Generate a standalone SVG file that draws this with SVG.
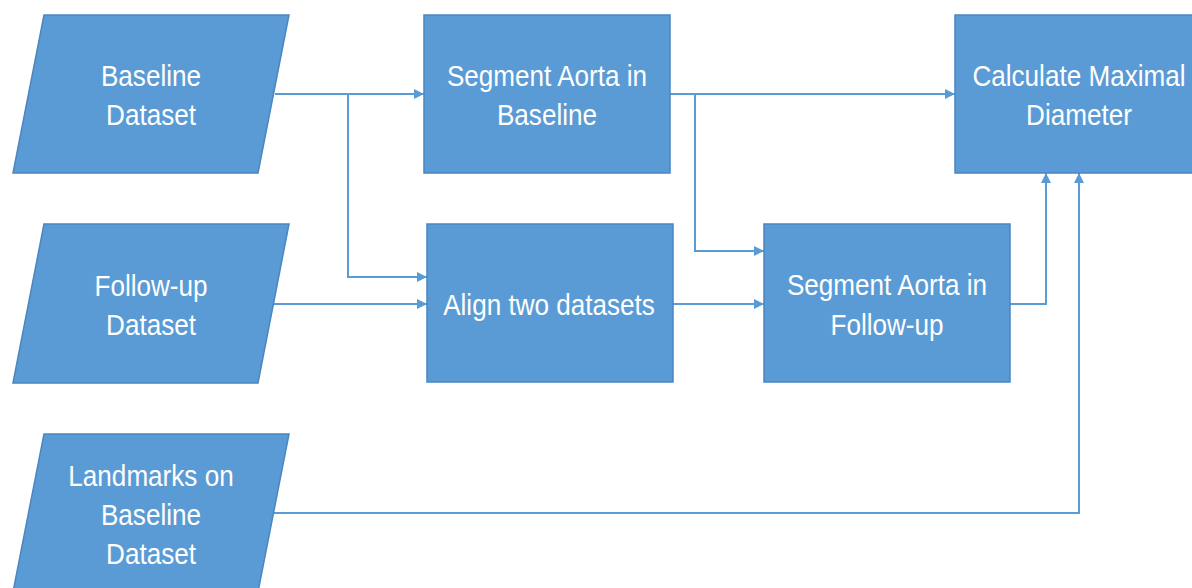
<svg xmlns="http://www.w3.org/2000/svg" width="1192" height="588" viewBox="0 0 1192 588">
<style>
.n{fill:#5b9bd5;stroke:#4a86c0;stroke-width:1.5}
.t{font-family:"Liberation Sans",Arial,sans-serif;font-size:29px;fill:#ffffff;text-anchor:middle}
.c{fill:none;stroke:#5b9bd5;stroke-width:2}
</style>
<defs>
<marker id="a" viewBox="0 0 10 10" refX="10" refY="5" markerWidth="10" markerHeight="10" markerUnits="userSpaceOnUse" orient="auto">
<path d="M0,0 L10,5 L0,10 z" fill="#5b9bd5"/>
</marker>
</defs>
<rect width="1192" height="588" fill="#ffffff"/>
<g id="connectors">
<path class="c" d="M275,94 H424" marker-end="url(#a)"/>
<path class="c" d="M348,94 V277 H427" marker-end="url(#a)"/>
<path class="c" d="M273,304 H427" marker-end="url(#a)"/>
<path class="c" d="M673,304 H764" marker-end="url(#a)"/>
<path class="c" d="M670,94 H955" marker-end="url(#a)"/>
<path class="c" d="M695,94 V251 H764" marker-end="url(#a)"/>
<path class="c" d="M1010,304 H1046 V173" marker-end="url(#a)"/>
<path class="c" d="M273,513 H1079 V173" marker-end="url(#a)"/>
</g>
<g id="baseline-dataset">
<polygon class="n" points="44,15 289,15 258,173 13,173"/>
<g transform="translate(151 0) scale(0.9 1)">
<text class="t" x="0" y="86">Baseline</text>
<text class="t" x="0" y="125">Dataset</text>
</g>
</g>
<g id="followup-dataset">
<polygon class="n" points="44,224 289,224 258,383 13,383"/>
<g transform="translate(151 0) scale(0.9 1)">
<text class="t" x="0" y="296">Follow-up</text>
<text class="t" x="0" y="335">Dataset</text>
</g>
</g>
<g id="landmarks">
<polygon class="n" points="44,434 289,434 258,592 13,592"/>
<g transform="translate(151 0) scale(0.9 1)">
<text class="t" x="0" y="486">Landmarks on</text>
<text class="t" x="0" y="525">Baseline</text>
<text class="t" x="0" y="564">Dataset</text>
</g>
</g>
<g id="segment-baseline">
<rect class="n" x="424" y="15" width="246" height="158"/>
<g transform="translate(547 0) scale(0.9 1)">
<text class="t" x="0" y="86">Segment Aorta in</text>
<text class="t" x="0" y="125">Baseline</text>
</g>
</g>
<g id="align">
<rect class="n" x="427" y="224" width="246" height="158"/>
<g transform="translate(549 0) scale(0.9 1)">
<text class="t" x="0" y="315">Align two datasets</text>
</g>
</g>
<g id="segment-followup">
<rect class="n" x="764" y="224" width="246" height="158"/>
<g transform="translate(887 0) scale(0.9 1)">
<text class="t" x="0" y="295">Segment Aorta in</text>
<text class="t" x="0" y="335">Follow-up</text>
</g>
</g>
<g id="calc">
<rect class="n" x="955" y="15" width="248" height="158"/>
<g transform="translate(1079 0) scale(0.9 1)">
<text class="t" x="0" y="86">Calculate Maximal</text>
<text class="t" x="0" y="125">Diameter</text>
</g>
</g>
</svg>
